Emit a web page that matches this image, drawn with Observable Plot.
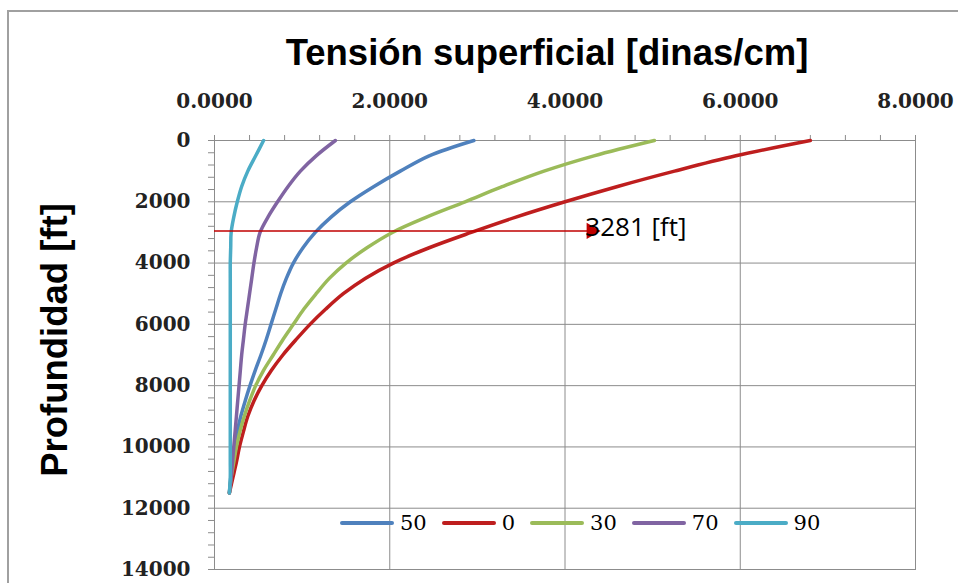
<!DOCTYPE html>
<html>
<head>
<meta charset="utf-8">
<script src="https://cdn.jsdelivr.net/npm/d3@7"></script>
<script src="https://cdn.jsdelivr.net/npm/@observablehq/plot@0.6"></script>
<style>
  html, body { margin: 0; padding: 0; background: #fff; }
  #wrap { position: relative; width: 958px; height: 583px; overflow: hidden; background:#fff; }
  #wrap svg { position: absolute; left: 0; top: 0; }
  #border { position: absolute; left: 7px; top: 10px; width: 1000px; height: 1000px;
            border-left: 2px solid #a0a0a0; border-top: 2px solid #a0a0a0; }
  #title { position: absolute; left: 0; width: 1094px; top: 32px; text-align: center;
           font-family: "Liberation Sans", Arial, sans-serif; font-weight: bold; font-size: 36.5px; color: #000; }
  #ylabel { position: absolute; left: 55px; top: 340px; transform: translate(-50%,-50%) rotate(-90deg);
            white-space: nowrap; font-family: "Liberation Sans", Arial, sans-serif; font-weight: bold; font-size: 36.5px; color: #000; }
  #legend { position: absolute; left: 340px; top: 511px; display: flex; align-items: center;
            font-family: "DejaVu Serif", serif; font-size: 21px; color: #000; }
  #legend .item { display: flex; align-items: center; margin-right: 15px; }
  #legend .sw { width: 54px; height: 4px; border-radius: 2px; margin-right: 6px; }
</style>
</head>
<body>
<div id="wrap">
  <div id="border"></div>
</div>
<script>
// ---- data ----
const depths = [0, 500, 1000, 1500, 2000, 2500, 3000, 3500, 4000, 4500, 5000, 5500, 6000, 6500, 7000, 7500, 8000, 8500, 9000, 9500, 10000, 10500, 11000, 11500];
const series = ["50", "0", "30", "70", "90"];
const colors = ["#4F81BD", "#BE1E1E", "#9BBB59", "#8064A2", "#4BACC6"];
const t50 = [2.96, 2.45, 2.12, 1.82, 1.55, 1.33, 1.15, 1.01, 0.90, 0.82, 0.755, 0.70, 0.645, 0.59, 0.53, 0.465, 0.405, 0.35, 0.30, 0.26, 0.23, 0.205, 0.185, 0.17];
const t0  = [6.80, 5.95, 5.25, 4.60, 4.00, 3.44, 2.93, 2.45, 2.04, 1.72, 1.47, 1.27, 1.09, 0.93, 0.78, 0.65, 0.54, 0.45, 0.38, 0.33, 0.285, 0.25, 0.21, 0.17];
const t30 = [5.02, 4.33, 3.76, 3.29, 2.86, 2.42, 2.03, 1.74, 1.50, 1.31, 1.16, 1.02, 0.90, 0.78, 0.67, 0.56, 0.47, 0.40, 0.34, 0.29, 0.25, 0.22, 0.19, 0.17];
const t70 = [1.38, 1.16, 0.98, 0.84, 0.72, 0.61, 0.52, 0.48, 0.45, 0.425, 0.40, 0.375, 0.35, 0.33, 0.31, 0.295, 0.28, 0.265, 0.25, 0.235, 0.22, 0.205, 0.19, 0.17];
const t90 = [0.56, 0.47, 0.38, 0.31, 0.26, 0.22, 0.19, 0.185, 0.18, 0.18, 0.18, 0.18, 0.18, 0.18, 0.18, 0.18, 0.18, 0.18, 0.18, 0.18, 0.18, 0.18, 0.18, 0.17];
const xTicks = [0, 2, 4, 6, 8];
const yTicks = [0, 2000, 4000, 6000, 8000, 10000, 12000, 14000];
const titleText = "Tensión superficial [dinas/cm]";
const yLabelText = "Profundidad [ft]";
const annotDepth = 2950;
const annotX = 4.30;
const annotText = "3281 [ft]";

const valuesBySeries = [t50, t0, t30, t70, t90];
const rows = [];
series.forEach((s, k) => depths.forEach((d, i) => rows.push({s, depth: d, t: valuesBySeries[k][i]})));

const minorX = d3.range(0, 8.0001, 0.4);
const minorY = d3.range(0, 14001, 400);
const gridC = "#8c8c8c";

const chart = Plot.plot({
  width: 958, height: 583,
  marginLeft: 214, marginRight: 43, marginTop: 140, marginBottom: 14,
  style: {fontFamily: "DejaVu Serif", fontSize: "20px", fontWeight: "bold", color: "#000", background: "transparent"},
  x: {domain: [0, 8], axis: null},
  y: {domain: [0, 14000], reverse: true, axis: null},
  color: {domain: series, range: colors},
  marks: [
    Plot.gridX(xTicks.slice(1, -1), {stroke: gridC, strokeOpacity: 1}),
    Plot.gridY(yTicks.slice(1, -1), {stroke: gridC, strokeOpacity: 1}),
    Plot.frame({stroke: gridC}),
    Plot.axisX({anchor: "top", ticks: minorX, tickSize: 6, tickFormat: () => "", stroke: gridC, label: null}),
    Plot.axisY({anchor: "left", ticks: minorY, tickSize: 6, tickFormat: () => "", stroke: gridC, label: null}),
    Plot.axisX({anchor: "top", ticks: xTicks, tickSize: 0, tickPadding: 33, tickFormat: d3.format(".4f"), label: null, fill: "#222"}),
    Plot.axisY({anchor: "left", ticks: yTicks, tickSize: 0, tickPadding: 24, tickFormat: d => String(d), label: null, fill: "#222"}),
    Plot.line(rows, {x: "t", y: "depth", z: "s", stroke: "s", strokeWidth: 3.5, curve: "catmull-rom"}),
    Plot.ruleY([annotDepth], {x1: 0, x2: annotX, stroke: "#C00000", strokeWidth: 1.5}),
    Plot.dot([annotX], {x: d => d, y: () => annotDepth, symbol: "triangle", rotate: 90, r: 6, fill: "#C00000", stroke: "none"}),
    Plot.text([annotText], {x: () => annotX, y: () => annotDepth, text: d => d, textAnchor: "start", dx: -6, dy: -3,
      fontFamily: "Open Sans", fontSize: 26, fontWeight: "normal", fill: "#000"})
  ]
});

const wrap = document.getElementById("wrap");
wrap.appendChild(chart);

const title = document.createElement("div");
title.id = "title"; title.textContent = titleText;
wrap.appendChild(title);

const yl = document.createElement("div");
yl.id = "ylabel"; yl.textContent = yLabelText;
wrap.appendChild(yl);

const legend = document.createElement("div");
legend.id = "legend";
series.forEach((s, i) => {
  const it = document.createElement("div"); it.className = "item";
  const sw = document.createElement("div"); sw.className = "sw"; sw.style.background = colors[i];
  const tx = document.createElement("span"); tx.textContent = s;
  it.appendChild(sw); it.appendChild(tx); legend.appendChild(it);
});
wrap.appendChild(legend);
</script>
</body>
</html>
